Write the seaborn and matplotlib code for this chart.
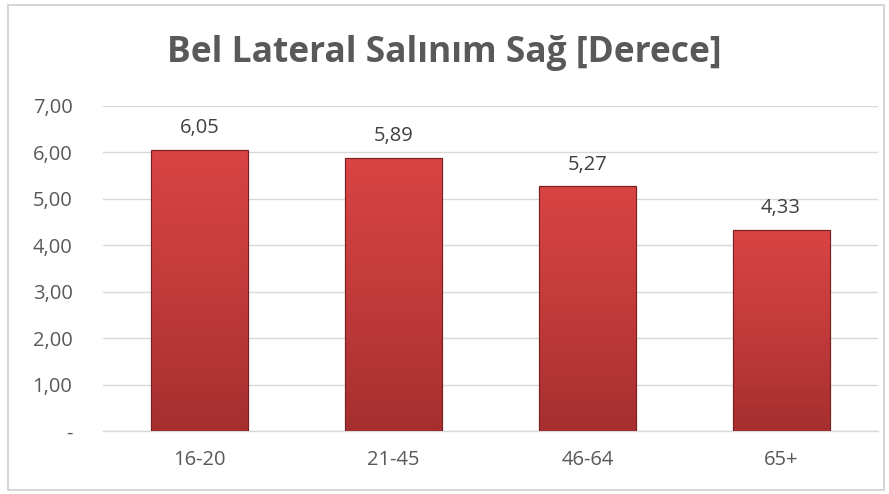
import numpy as np
import pandas as pd
import matplotlib
matplotlib.use("Agg")
import matplotlib.pyplot as plt
import seaborn as sns
from matplotlib.ticker import FuncFormatter
from matplotlib.patches import Rectangle

categories = ["16-20", "21-45", "46-64", "65+"]
values = [6.05, 5.89, 5.27, 4.33]
title = "Bel Lateral Salınım Sağ [Derece]"

df = pd.DataFrame({"group": categories, "value": values})

sns.set_style("white")
plt.rcParams['font.family'] = ['Open Sans', 'DejaVu Sans']

fig = plt.figure(figsize=(8.89, 4.94), dpi=100)
ax = fig.add_axes([0.1159, 0.1275, 0.8717, 0.658])

sns.barplot(data=df, x="group", y="value", color="#c83a3a", width=0.5, ax=ax,
            edgecolor="#7a2020", linewidth=0.8, zorder=3)

# gradient fill on every bar
grad = np.linspace(0, 1, 256).reshape(-1, 1)
cmap = matplotlib.colors.LinearSegmentedColormap.from_list(
    "barred", ["#a52f2f", "#c23b3b", "#d94444"])
for p in ax.patches:
    x0, y0 = p.get_x(), p.get_y()
    w, h = p.get_width(), p.get_height()
    im = ax.imshow(grad, extent=[x0, x0 + w, y0, y0 + h], origin="lower",
                   cmap=cmap, aspect="auto", zorder=4)
    im.set_clip_path(p)
    ax.add_patch(Rectangle((x0, y0), w, h, fill=False, edgecolor="#7a2020",
                           linewidth=0.8, zorder=5))

ax.set_xlim(-0.5, len(categories) - 0.5)
ax.set_ylim(0, 7)
ax.set_yticks(np.arange(0, 8, 1))
ax.yaxis.set_major_formatter(FuncFormatter(
    lambda v, pos: "-" if v == 0 else f"{v:.2f}".replace(".", ",")))
ax.grid(axis="y", color="#d9d9d9", linewidth=1, zorder=0)
ax.set_axisbelow(True)
for s in ["top", "right", "left"]:
    ax.spines[s].set_visible(False)
ax.spines["bottom"].set_color("#d9d9d9")
ax.spines["bottom"].set_linewidth(1)
ax.tick_params(axis="both", length=0, labelsize=14.5, colors="#595959")
ax.tick_params(axis="x", pad=14)
ax.tick_params(axis="y", pad=22)
ax.set_xlabel("")
ax.set_ylabel("")

for i, v in enumerate(values):
    ax.text(i, v + 0.25, f"{v:.2f}".replace(".", ","), ha="center", va="bottom",
            fontsize=14.5, color="#404040", zorder=6)

fig.text(0.5, 0.893, title, ha="center", va="center", fontsize=25.5,
         fontweight="bold", color="#595959")

fig.add_artist(Rectangle((0.009, 0.008), 0.985, 0.982, transform=fig.transFigure,
                         fill=False, edgecolor="#d0d0d0", linewidth=1.2))

fig.savefig("out.png", dpi=100)
